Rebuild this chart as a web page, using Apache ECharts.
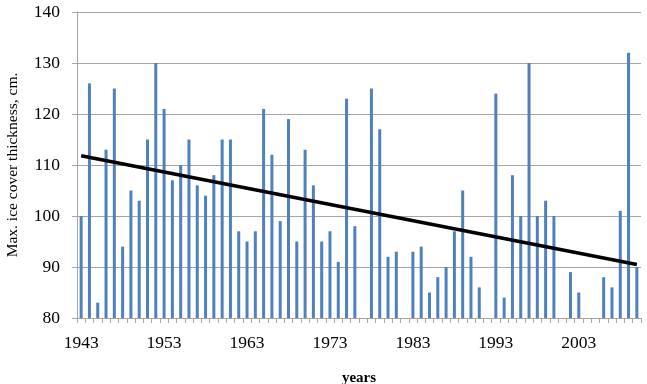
<!DOCTYPE html>
<html>
<head>
<meta charset="utf-8">
<script src="https://cdn.jsdelivr.net/npm/echarts@6/dist/echarts.min.js"></script>
<style>html,body{margin:0;padding:0;background:#fff}#c{width:647px;height:384px}</style>
</head>
<body>
<div id="c"></div>
<script>
// Years 1943..2010
const years = ["1943","1944","1945","1946","1947","1948","1949","1950","1951","1952",
"1953","1954","1955","1956","1957","1958","1959","1960","1961","1962",
"1963","1964","1965","1966","1967","1968","1969","1970","1971","1972",
"1973","1974","1975","1976","1977","1978","1979","1980","1981","1982",
"1983","1984","1985","1986","1987","1988","1989","1990","1991","1992",
"1993","1994","1995","1996","1997","1998","1999","2000","2001","2002",
"2003","2004","2005","2006","2007","2008","2009","2010"];
const thickness = [100,126,83,113,125,94,105,103,115,130,
121,107,110,115,106,104,108,115,115,97,
95,97,121,112,99,119,95,113,106,95,
97,91,123,98,80,125,117,92,93,80,
93,94,85,88,90,97,105,92,86,null,
124,84,108,100,130,100,103,100,80,89,
85,80,80,88,86,101,132,90];
// Linear trend line end values (first and last year)
const trendEnds = [111.8, 90.5];
const yTicks = {min: 80, max: 140, interval: 10};

const trendData = years.map((y, i) => i === 0 ? trendEnds[0] : (i === years.length - 1 ? trendEnds[1] : null));

const font = "'Liberation Serif', 'Times New Roman', serif";
const chart = echarts.init(document.getElementById('c'), null, {renderer: 'canvas'});
chart.setOption({
  animation: false,
  backgroundColor: '#fff',
  grid: {left: 77, right: 6, top: 12, bottom: 66, containLabel: false, outerBoundsMode: 'none'},
  xAxis: {
    type: 'category',
    data: years,
    boundaryGap: true,
    name: 'years',
    nameLocation: 'middle',
    nameGap: 53,
    nameTextStyle: {fontFamily: font, fontSize: 15, fontWeight: 'bold', color: '#000'},
    axisLine: {show: true, lineStyle: {color: '#a6a6a6', width: 1}},
    axisTick: {show: true, interval: 0, length: 5, alignWithLabel: false, lineStyle: {color: '#a6a6a6'}},
    axisLabel: {interval: 9, fontFamily: font, fontSize: 17.5, color: '#000', margin: 16},
    splitLine: {show: false}
  },
  yAxis: {
    type: 'value',
    min: yTicks.min, max: yTicks.max, interval: yTicks.interval,
    name: 'Max. ice cover thickness, cm.',
    nameLocation: 'middle',
    nameGap: 56,
    nameRotate: 90,
    nameTextStyle: {fontFamily: font, fontSize: 15.5, color: '#000'},
    axisLine: {show: true, lineStyle: {color: '#a6a6a6', width: 1}},
    axisTick: {show: true, length: 5, lineStyle: {color: '#a6a6a6'}},
    axisLabel: {fontFamily: font, fontSize: 17.5, color: '#000', margin: 17},
    splitLine: {show: true, lineStyle: {color: '#a6a6a6', width: 1}}
  },
  series: [
    {
      type: 'bar',
      data: thickness,
      barWidth: 3,
      itemStyle: {color: '#4f81bd'}
    },
    {
      type: 'line',
      data: trendData,
      connectNulls: true,
      showSymbol: false,
      symbol: 'none',
      lineStyle: {color: '#000', width: 3.5},
      z: 5
    }
  ]
});
</script>
</body>
</html>
